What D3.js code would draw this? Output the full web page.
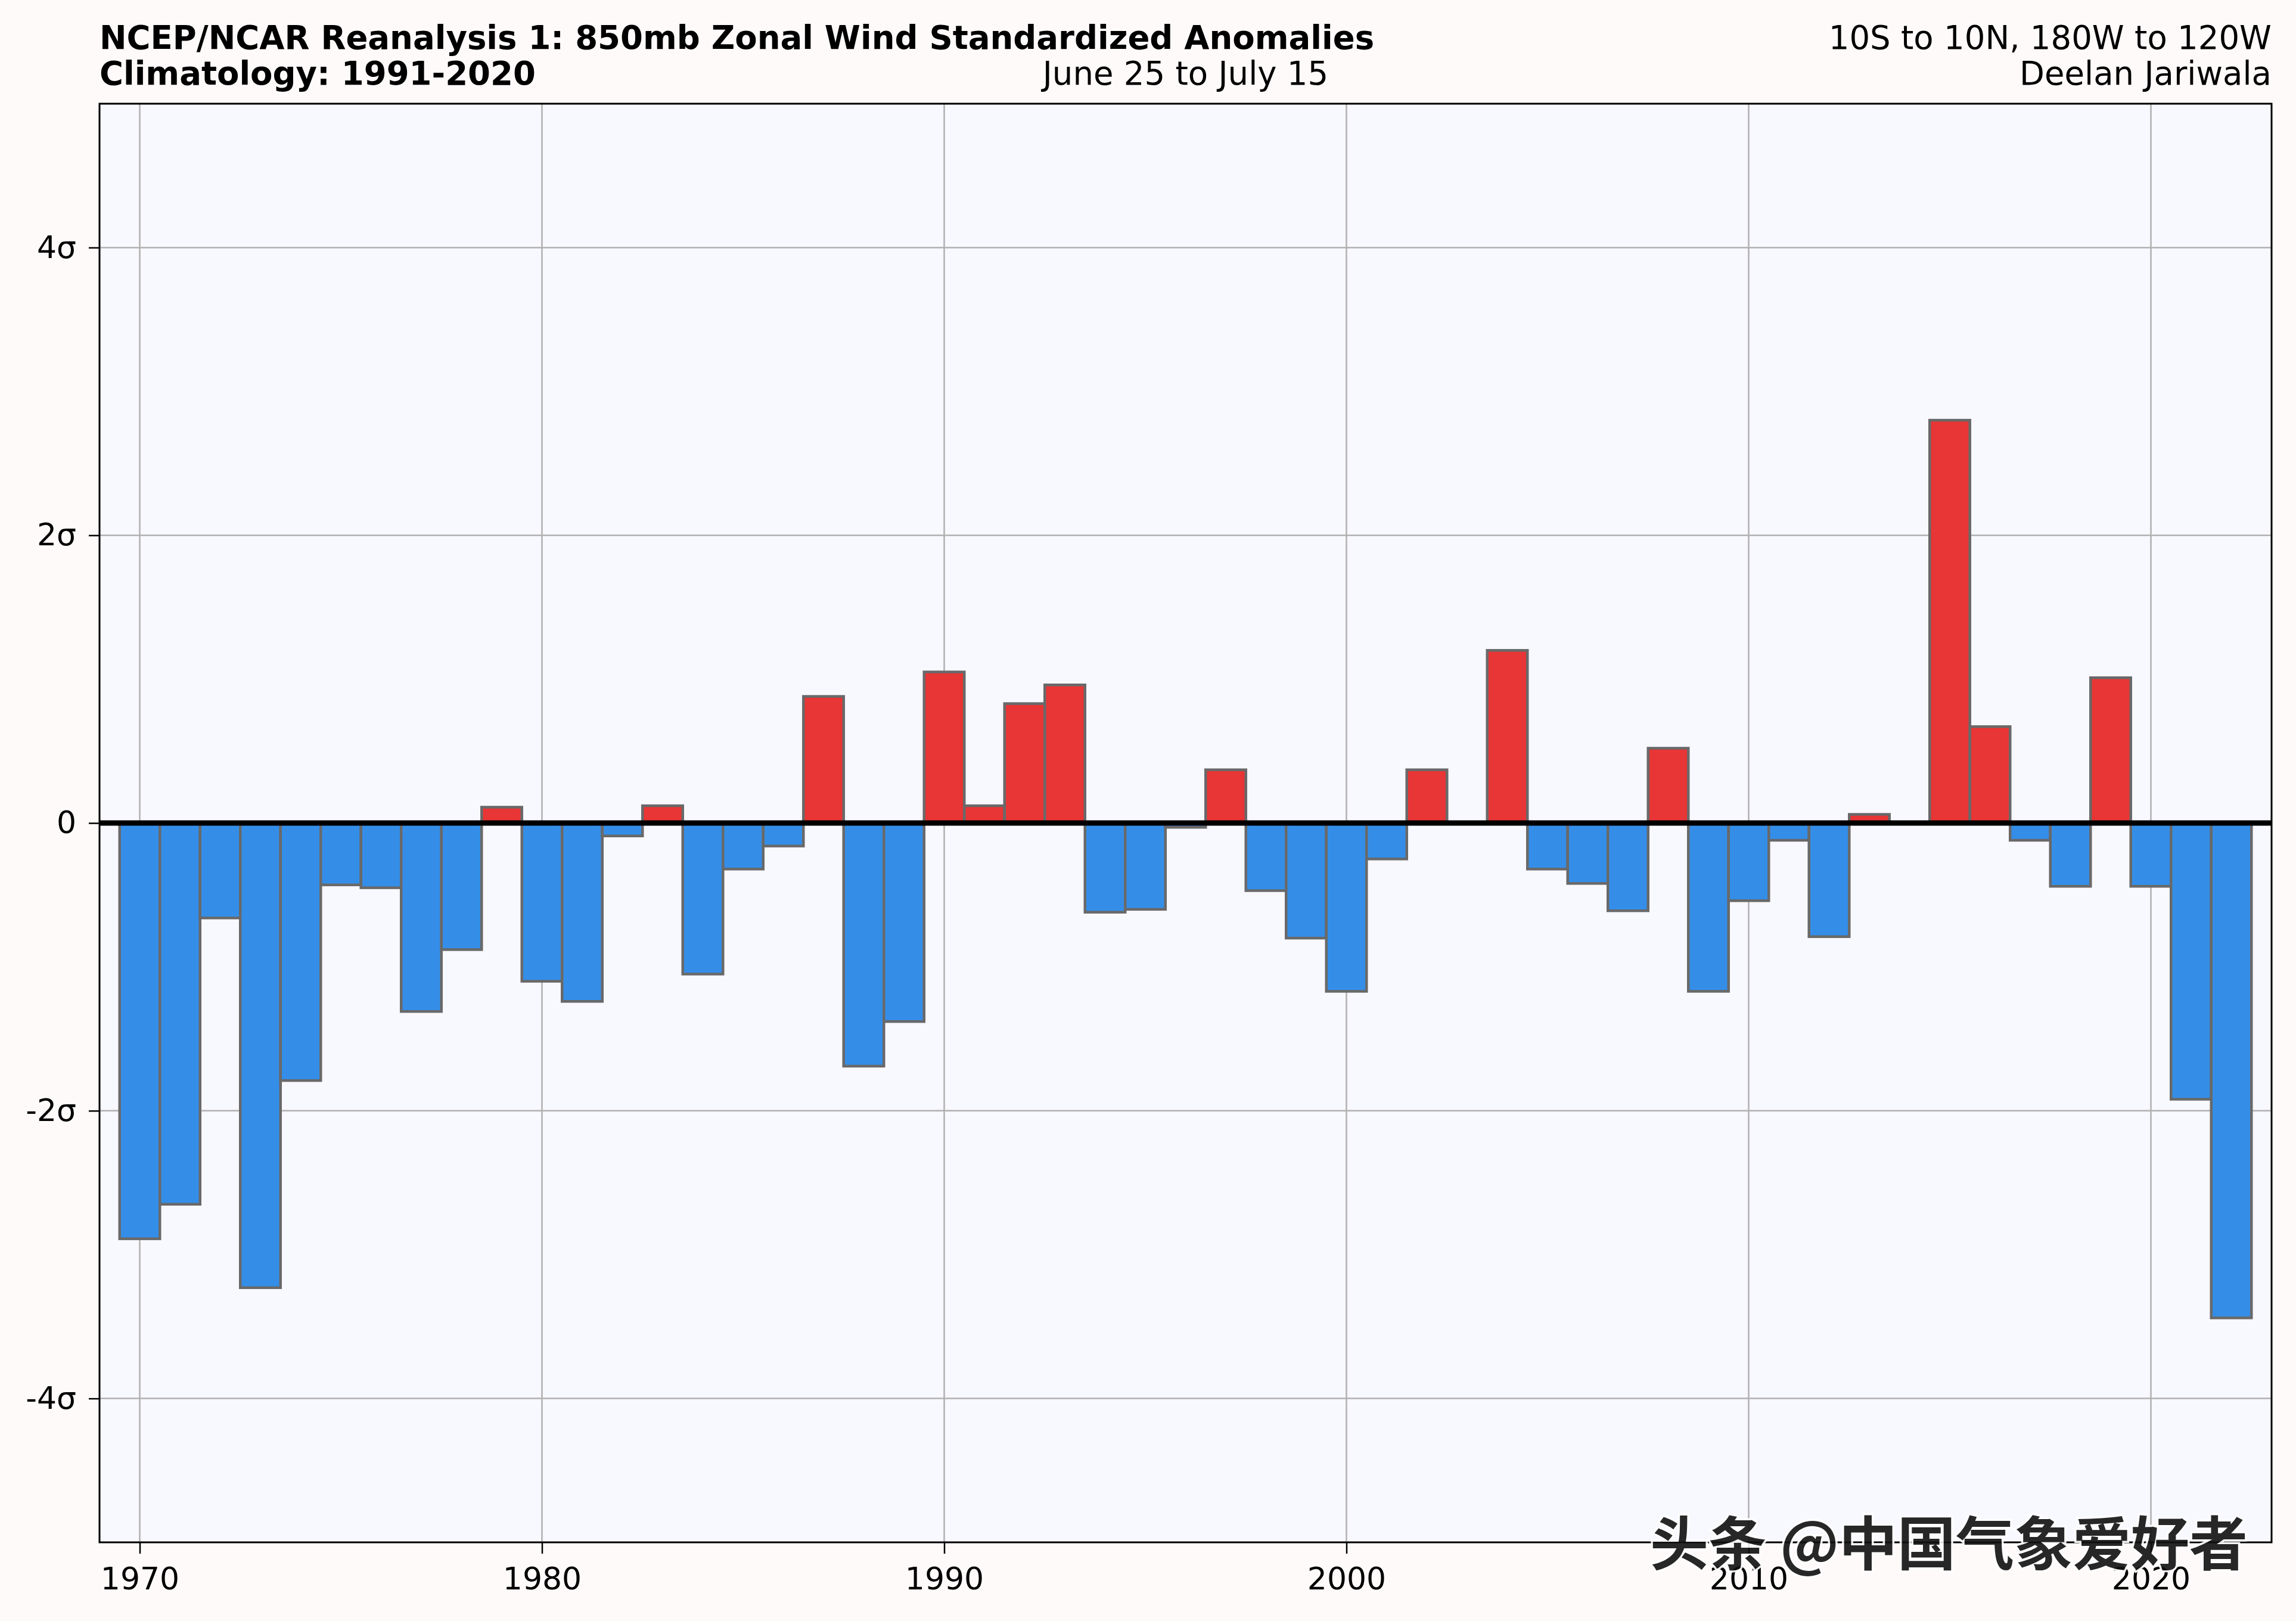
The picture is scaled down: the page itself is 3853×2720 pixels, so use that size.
<!DOCTYPE html>
<html><head><meta charset="utf-8">
<script src="https://cdn.jsdelivr.net/npm/d3@7"></script>
<style>html,body{margin:0;padding:0;background:#fffafa;} svg{display:block;}</style>
</head><body>
<script>
// ---- data ----
const years = [1970,1971,1972,1973,1974,1975,1976,1977,1978,1979,
               1980,1981,1982,1983,1984,1985,1986,1987,1988,1989,
               1990,1991,1992,1993,1994,1995,1996,1997,1998,1999,
               2000,2001,2002,2003,2004,2005,2006,2007,2008,2009,
               2010,2011,2012,2013,2014,2015,2016,2017,2018,2019,
               2020,2021,2022];
const anomalies = [-2.89,-2.65,-0.66,-3.23,-1.79,-0.43,-0.45,-1.31,-0.88,0.11,
                   -1.10,-1.24,-0.09,0.12,-1.05,-0.32,-0.16,0.88,-1.69,-1.38,
                   1.05,0.12,0.83,0.96,-0.62,-0.60,-0.03,0.37,-0.47,-0.80,
                   -1.17,-0.25,0.37,0.00,1.20,-0.32,-0.42,-0.61,0.52,-1.17,
                   -0.54,-0.12,-0.79,0.06,0.00,2.80,0.67,-0.12,-0.44,1.01,
                   -0.44,-1.92,-3.44];
const yTickValues = [-4,-2,0,2,4];
const yTickLabels = ["-4σ","-2σ","0","2σ","4σ"];
const xTickValues = [1970,1980,1990,2000,2010,2020];
const titleLeft = ["NCEP/NCAR Reanalysis 1: 850mb Zonal Wind Standardized Anomalies","Climatology: 1991-2020"];
const titleCenter = "June 25 to July 15";
const titleRight = ["10S to 10N, 180W to 120W","Deelan Jariwala"];
const watermark = "头条 @中国气象爱好者";

// ---- layout ----
const W = 3853, H = 2720;
const m = {l:167, r:3812, t:174, b:2588};
const FONT = "'DejaVu Sans', sans-serif";
const FS = 52;
const TFS = 54.5;

const x = d3.scaleLinear().domain([1969, 2023]).range([m.l, m.r]);
const y = d3.scaleLinear().domain([-5, 5]).range([m.b, m.t]);

const svg = d3.select("body").append("svg").attr("width", W).attr("height", H);
svg.append("rect").attr("width", W).attr("height", H).attr("fill", "#fffafa");
svg.append("rect").attr("x", m.l).attr("y", m.t).attr("width", m.r - m.l).attr("height", m.b - m.t).attr("fill", "#f8f8ff");

// grid
const grid = svg.append("g");
grid.selectAll(".vg").data(xTickValues).join("line")
  .attr("x1", d => x(d)).attr("x2", d => x(d)).attr("y1", m.t).attr("y2", m.b)
  .attr("stroke", "#b0b0b0").attr("stroke-width", 2.5);
grid.selectAll(".hg").data(yTickValues).join("line")
  .attr("x1", m.l).attr("x2", m.r).attr("y1", d => y(d)).attr("y2", d => y(d))
  .attr("stroke", "#b0b0b0").attr("stroke-width", 2.5);

// bars
const data = years.map((yr, i) => ({year: yr, v: anomalies[i]}));
svg.append("g").selectAll("rect").data(data).join("rect")
  .attr("x", d => x(d.year - 0.5))
  .attr("width", d => x(d.year + 0.5) - x(d.year - 0.5))
  .attr("y", d => y(Math.max(d.v, 0)))
  .attr("height", d => Math.abs(y(d.v) - y(0)))
  .attr("fill", d => d.v >= 0 ? "#e83535" : "#348ee8")
  .attr("stroke", "#696969").attr("stroke-width", 4.5);

// zero line
svg.append("line").attr("x1", m.l).attr("x2", m.r).attr("y1", y(0)).attr("y2", y(0))
  .attr("stroke", "#000").attr("stroke-width", 9);

// frame
svg.append("rect").attr("x", m.l).attr("y", m.t).attr("width", m.r - m.l).attr("height", m.b - m.t)
  .attr("fill", "none").attr("stroke", "#000").attr("stroke-width", 3);

// axes
const yAxis = d3.axisLeft(y).tickValues(yTickValues)
  .tickFormat(d => yTickLabels[yTickValues.indexOf(d)]).tickSize(18).tickPadding(21);
const gy = svg.append("g").attr("transform", `translate(${m.l},0)`).call(yAxis);
const xAxis = d3.axisBottom(x).tickValues(xTickValues).tickFormat(d3.format("d")).tickSize(19).tickPadding(23);
const gx = svg.append("g").attr("transform", `translate(0,${m.b})`).call(xAxis);
[gx, gy].forEach(g => {
  g.select(".domain").remove();
  g.selectAll(".tick line").attr("stroke", "#000").attr("stroke-width", 2.5);
  g.selectAll(".tick text").attr("fill", "#000").style("font-family", FONT).style("font-size", FS + "px");
});

// titles
const t = svg.append("g").style("font-family", FONT).style("font-size", TFS + "px").attr("fill", "#000");
t.append("text").attr("x", m.l).attr("y", 82).attr("font-weight", "bold").text(titleLeft[0]);
t.append("text").attr("x", m.l).attr("y", 142).attr("font-weight", "bold").text(titleLeft[1]);
t.append("text").attr("x", (m.l + m.r) / 2).attr("y", 142).attr("text-anchor", "middle").text(titleCenter);
t.append("text").attr("x", m.r).attr("y", 82).attr("text-anchor", "end").text(titleRight[0]);
t.append("text").attr("x", m.r).attr("y", 142).attr("text-anchor", "end").text(titleRight[1]);

// watermark
svg.append("text").attr("x", 3772).attr("y", 2626).attr("text-anchor", "end")
  .style("font-family", "'Noto Sans CJK SC', sans-serif").style("font-size", "98px")
  .attr("font-weight", "bold")
  .attr("fill", "#111").attr("stroke", "#fff").attr("stroke-width", 7)
  .attr("paint-order", "stroke").attr("opacity", 0.9)
  .text(watermark);
</script>
</body></html>
